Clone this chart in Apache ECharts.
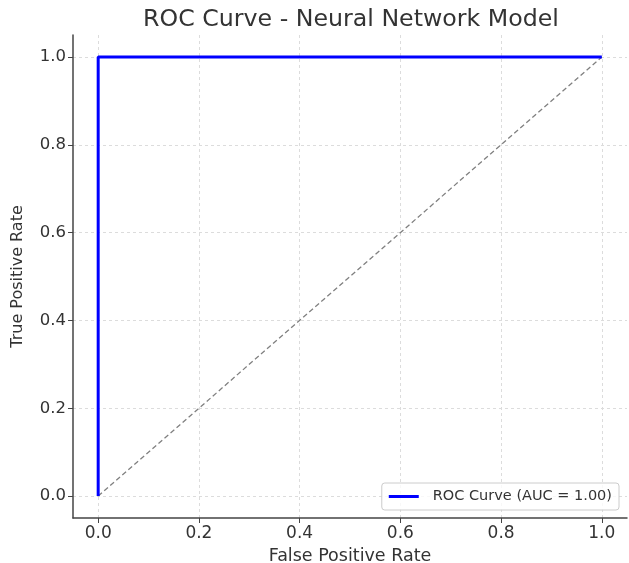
<!DOCTYPE html>
<html>
<head>
<meta charset="utf-8">
<script src="https://cdn.jsdelivr.net/npm/echarts@6/dist/echarts.min.js"></script>
<style>
  html, body { margin: 0; padding: 0; background: #fff; }
  #chart { width: 629px; height: 563px; }
</style>
</head>
<body>
<div id="chart"></div>
<script>
// ROC curve points
const rocFpr = [0.0, 0.0, 1.0];
const rocTpr = [0.0, 1.0, 1.0];
// chance line
const chanceX = [0.0, 1.0];
const chanceY = [0.0, 1.0];
const tickValues = [0.0, 0.2, 0.4, 0.6, 0.8, 1.0];

const FONT = 'DejaVu Sans';
const textColor = '#333';

const chart = echarts.init(document.getElementById('chart'));

const axisCommon = {
  type: 'value',
  min: -0.05,
  max: 1.05,
  nameLocation: 'middle',
  nameTextStyle: { fontFamily: FONT, fontSize: 16, color: textColor },
  axisLine: { show: true, onZero: false, lineStyle: { color: '#444', width: 1.5 } },
  axisTick: { show: true, inside: false, length: 5, lineStyle: { color: '#444' }, customValues: tickValues },
  axisLabel: {
    fontFamily: FONT, fontSize: 16.5, color: textColor,
    customValues: tickValues,
    formatter: v => v.toFixed(1)
  },
  splitLine: { show: true, lineStyle: { color: '#dcdcdc', type: [3, 3], width: 1 } }
};

const option = {
  animation: false,
  backgroundColor: '#fff',
  title: {
    text: 'ROC Curve - Neural Network Model',
    left: 346,
    textAlign: 'center',
    top: 3,
    textStyle: { fontFamily: FONT, fontSize: 23.7, fontWeight: 'normal', color: textColor }
  },
  grid: { left: 73, right: 2, top: 35, bottom: 45, outerBoundsMode: 'none', containLabel: false },
  legend: {
    right: 10,
    bottom: 53,
    padding: [6, 7],
    backgroundColor: 'rgba(255,255,255,0.8)',
    borderColor: '#ccc',
    borderWidth: 1,
    borderRadius: 3,
    itemWidth: 30,
    itemHeight: 3,
    textStyle: { fontFamily: FONT, fontSize: 14.5, color: textColor, padding: [0, 0, 0, 9] },
    data: [{ name: 'ROC Curve (AUC = 1.00)', icon: 'rect' }]
  },
  xAxis: Object.assign({}, axisCommon, {
    name: 'False Positive Rate',
    nameGap: 29,
    nameTextStyle: Object.assign({}, axisCommon.nameTextStyle, { fontSize: 17.5 }),
    axisLabel: Object.assign({}, axisCommon.axisLabel, { fontSize: 17, margin: 7 })
  }),
  yAxis: Object.assign({}, axisCommon, {
    name: 'True Positive Rate',
    nameGap: 47,
    nameRotate: 90,
    axisLabel: Object.assign({}, axisCommon.axisLabel, { margin: 7 })
  }),
  series: [
    {
      name: 'ROC Curve (AUC = 1.00)',
      type: 'line',
      data: rocFpr.map((x, i) => [x, rocTpr[i]]),
      showSymbol: false,
      lineStyle: { color: '#0000ff', width: 3 },
      itemStyle: { color: '#0000ff' },
      z: 3
    },
    {
      name: 'chance',
      type: 'line',
      data: chanceX.map((x, i) => [x, chanceY[i]]),
      showSymbol: false,
      lineStyle: { color: '#808080', width: 1.3, type: [5, 3] },
      itemStyle: { color: '#808080' },
      z: 2
    }
  ]
};

chart.setOption(option);
</script>
</body>
</html>
